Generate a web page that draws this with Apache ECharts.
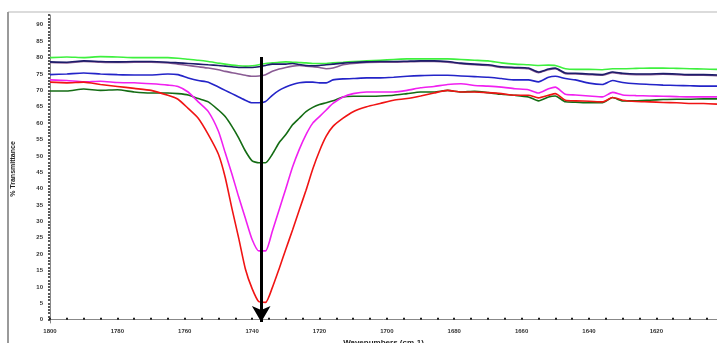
<!DOCTYPE html>
<html>
<head>
<meta charset="utf-8">
<script src="https://cdn.jsdelivr.net/npm/echarts@6/dist/echarts.min.js"></script>
<style>
  html, body { margin: 0; padding: 0; background: #fff; }
  #chart { width: 717px; height: 343px; }
</style>
</head>
<body>
<div id="chart"></div>
<script>
// wavenumbers (cm-1) shared by every trace
const wavenumbers = [1800,1795,1790,1785,1780,1775,1770,1765,1762,1759,1756,1753,1750,1748,1746,1744,1742,1740,1738,1736,1734,1732,1730,1728,1726,1724,1722,1720,1718,1716,1713,1710,1706,1702,1698,1694,1690,1686,1682,1678,1674,1670,1666,1662,1658,1655,1652,1650,1647,1644,1640,1636,1633,1630,1626,1622,1618,1614,1610,1606,1602];

const lightGreen = [80.0,80.2,80.0,80.3,80.2,80.0,80.0,80.0,79.8,79.5,
  79.2,78.8,78.3,78.0,77.7,77.5,77.4,77.5,77.8,78.2,
  78.4,78.6,78.7,78.6,78.5,78.4,78.2,78.2,78.2,78.4,
  78.6,78.8,79.0,79.2,79.4,79.6,79.6,79.6,79.6,79.4,
  79.2,79.0,78.4,78.0,77.8,77.6,77.7,77.6,76.6,76.4,
  76.4,76.3,76.6,76.6,76.7,76.8,76.8,76.7,76.6,76.5,76.4];

const navy = [78.7,78.6,79.0,78.8,78.7,78.8,78.8,78.6,78.4,78.2,
  78.0,77.8,77.6,77.4,77.2,77.0,77.0,77.0,77.2,77.6,
  78.0,78.0,78.0,78.2,77.9,77.6,77.5,77.6,77.8,78.0,
  78.3,78.5,78.7,78.8,78.8,78.9,79.0,79.0,78.8,78.3,
  78.0,77.8,77.2,77.0,76.8,75.6,76.5,76.8,75.3,75.2,
  75.0,74.8,75.6,75.2,75.0,75.0,75.1,75.0,74.8,74.8,74.7];

const mauve = [78.5,78.4,78.8,78.6,78.5,78.6,78.6,78.4,78.0,77.6,
  77.2,76.8,76.3,75.8,75.4,75.0,74.6,74.3,74.4,74.8,
  75.8,76.5,77.0,77.4,77.6,77.4,77.2,77.0,76.6,76.8,
  77.8,78.2,78.5,78.6,78.6,78.7,78.8,78.8,78.6,78.1,
  77.8,77.6,77.0,76.8,76.6,75.4,76.3,76.6,75.1,75.0,
  74.8,74.6,75.4,75.0,74.8,74.8,74.9,74.8,74.6,74.6,74.5];

const blue = [74.8,75.0,75.3,75.0,74.8,74.7,74.7,75.0,74.8,73.8,
  73.0,72.5,71.0,70.0,69.0,68.0,67.0,66.2,66.2,66.6,
  68.5,70.0,71.0,71.8,72.3,72.5,72.5,72.3,72.3,73.2,
  73.5,73.6,73.8,73.8,74.0,74.3,74.5,74.6,74.6,74.4,
  74.2,74.0,73.6,73.2,73.2,72.6,74.0,74.3,73.6,73.2,
  72.2,71.8,73.0,72.4,72.0,71.8,71.6,71.5,71.4,71.3,71.3];

const darkGreen = [69.8,69.8,70.4,70.0,70.2,69.5,69.2,69.2,69.0,68.6,
  67.5,66.5,64.0,62.0,59.0,55.5,51.5,48.5,47.9,47.9,
  50.5,54.0,56.5,59.5,61.5,63.5,64.8,65.7,66.2,66.8,
  68.0,68.2,68.2,68.3,68.5,69.0,69.5,69.5,70.0,69.5,
  69.7,69.3,68.8,68.5,68.0,66.8,68.0,68.3,66.5,66.4,
  66.2,66.2,67.8,66.8,66.8,67.0,67.2,67.3,67.3,67.4,67.4];

const magenta = [73.2,73.0,72.6,72.8,72.4,72.3,72.0,71.6,71.2,69.5,
  66.5,63.5,57.5,51.0,44.5,37.5,31.0,24.5,21.0,21.0,
  27.0,33.5,40.0,46.6,52.0,56.5,60.0,62.0,64.0,66.0,
  68.0,69.0,69.5,69.5,69.5,70.0,70.8,71.2,71.8,72.0,
  71.5,71.3,71.0,70.5,70.2,69.2,70.5,71.0,68.8,68.6,
  68.3,68.0,69.4,68.6,68.4,68.3,68.2,68.1,68.0,68.0,68.0];

const red = [72.5,72.3,72.5,71.8,71.2,70.6,70.0,68.5,67.3,64.5,
  61.5,56.5,50.5,43.5,34.0,25.0,15.5,9.5,5.5,5.3,
  9.8,15.5,21.5,27.4,33.5,39.5,46.0,51.5,56.0,59.0,
  61.5,63.5,65.0,66.0,67.0,67.5,68.3,69.2,70.0,69.5,
  69.5,69.3,69.0,68.5,68.5,67.7,68.5,69.0,67.0,66.8,
  66.7,66.5,67.8,67.0,66.6,66.5,66.3,66.2,66.0,66.0,65.8];

const xTickLabels = [1800,1780,1760,1740,1720,1700,1680,1660,1640,1620];
const yTickLabels = [0,5,10,15,20,25,30,35,40,45,50,55,60,65,70,75,80,85,90];

// arrow marking the carbonyl band
const arrowX = 1737.3;
const arrowFrom = 80.2;
const arrowTo = -0.7;

const traces = [
  { name: 'a', values: lightGreen, color: '#3ef03e' },
  { name: 'b', values: mauve, color: '#8a5c94' },
  { name: 'c', values: navy, color: '#1c1c6a' },
  { name: 'd', values: blue, color: '#2424c8' },
  { name: 'e', values: darkGreen, color: '#146c14' },
  { name: 'f', values: magenta, color: '#f020f0' },
  { name: 'g', values: red, color: '#f01414' }
];

const xMinorTicks = [];
for (let w = 1605; w <= 1800; w += 5) xMinorTicks.push(w);
const yMinorTicks = [];
for (let v = 0; v <= 93; v += 1) yMinorTicks.push(v);

const series = traces.map(t => ({
  name: t.name,
  type: 'line',
  data: wavenumbers.map((w, i) => [w, t.values[i]]),
  showSymbol: false,
  smooth: 0.2,
  lineStyle: { color: t.color, width: 1.6 },
  itemStyle: { color: t.color }
}));

series[series.length - 1].markLine = {
  silent: true,
  symbol: ['none', 'arrow'],
  symbolSize: [14, 16],
  label: { show: false },
  lineStyle: { color: '#000', width: 3, type: 'solid' },
  data: [[{ coord: [arrowX, arrowFrom] }, { coord: [arrowX, arrowTo] }]]
};

const option = {
  animation: false,
  grid: { left: 50, right: 0, top: 15, bottom: 20, outerBoundsMode: 'none', containLabel: false },
  xAxis: {
    type: 'value',
    inverse: true,
    min: 1602,
    max: 1800,
    name: 'Wavenumbers (cm-1)',
    nameLocation: 'middle',
    nameGap: 13,
    nameTextStyle: { fontSize: 8, fontWeight: 'bold', color: '#222' },
    axisLine: { show: true, lineStyle: { color: '#888', width: 1 } },
    axisTick: {
      show: true, customValues: xMinorTicks, length: 2, inside: true,
      lineStyle: { color: '#222', width: 2 }
    },
    axisLabel: {
      customValues: xTickLabels, fontSize: 6, fontWeight: 'bold', color: '#333', margin: 5,
      formatter: v => String(v)
    },
    splitLine: { show: false }
  },
  yAxis: {
    type: 'value',
    min: -1,
    max: 93,
    name: '% Transmittance',
    nameLocation: 'middle',
    nameGap: 33,
    nameTextStyle: { fontSize: 7, fontWeight: 'bold', color: '#222' },
    axisLine: { show: true, lineStyle: { color: '#888', width: 1 } },
    axisTick: {
      show: true, customValues: yMinorTicks, length: 2,
      lineStyle: { color: '#222', width: 1.5 }
    },
    axisLabel: {
      customValues: yTickLabels, fontSize: 6, fontWeight: 'bold', color: '#333', margin: 7
    },
    splitLine: { show: false }
  },
  graphic: [
    { type: 'line', shape: { x1: 8, y1: 12, x2: 717, y2: 12 }, style: { stroke: '#cfcfcf', lineWidth: 1.5 } },
    { type: 'line', shape: { x1: 8, y1: 12, x2: 8, y2: 343 }, style: { stroke: '#9a9a9a', lineWidth: 2 } }
  ],
  series: series
};

const chart = echarts.init(document.getElementById('chart'));
chart.setOption(option);
</script>
</body>
</html>
